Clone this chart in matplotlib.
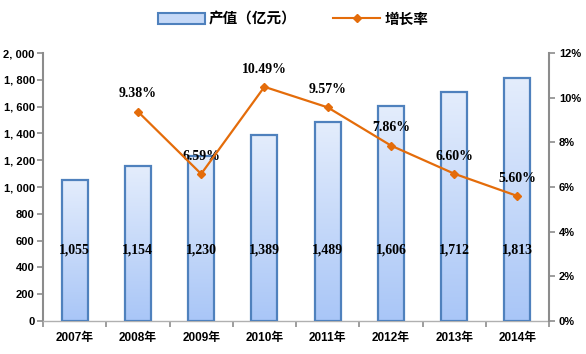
import numpy as np
import matplotlib.pyplot as plt
from matplotlib.patches import Patch
from matplotlib.lines import Line2D
from matplotlib.ticker import FixedLocator
from matplotlib.colors import LinearSegmentedColormap

years = ['2007年', '2008年', '2009年', '2010年', '2011年', '2012年', '2013年', '2014年']
output = [1055, 1154, 1230, 1389, 1489, 1606, 1712, 1813]
growth = [None, 9.38, 6.59, 10.49, 9.57, 7.86, 6.60, 5.60]
left_ticks = [0, 200, 400, 600, 800, 1000, 1200, 1400, 1600, 1800, 2000]
left_labels = ['0', '200', '400', '600', '800', '1, 000', '1, 200', '1, 400', '1, 600', '1, 800', '2, 000']
right_ticks = [0, 2, 4, 6, 8, 10, 12]

CJK = ['Liberation Sans', 'Noto Sans CJK SC', 'DejaVu Sans']
SERIF = ['Liberation Serif', 'DejaVu Serif']
BLUE_EDGE = '#4f81bd'
ORANGE = '#e46c0a'
GRAY = '#8c8c8c'

fig = plt.figure(figsize=(5.86, 3.54), dpi=100)
ax = fig.add_axes([0.0734, 0.093, 0.8636, 0.757])
x = np.arange(len(years))
w = 0.41

bars = ax.bar(x, output, width=w, facecolor='none', edgecolor=BLUE_EDGE, linewidth=1.6, zorder=3)
# gradient fill, darker at the base
grad = np.linspace(0, 1, 256).reshape(-1, 1)
cmap = LinearSegmentedColormap.from_list('bb', ['#a9c6f7', '#e4edfc'])
for b in bars:
    im = ax.imshow(grad, cmap=cmap, aspect='auto', origin='lower',
                   extent=[b.get_x(), b.get_x() + b.get_width(), 0, b.get_height()], zorder=2)
    im.set_clip_path(b)

for xi, v in zip(x, output):
    ax.text(xi, 530, f'{v:,}', ha='center', va='center', fontsize=10,
            fontweight='bold', family=SERIF, zorder=5)

ax.set_xlim(-0.5, len(years) - 0.5)
ax.set_ylim(0, 2000)
ax.set_yticks(left_ticks)
ax.set_yticklabels(left_labels, fontsize=8, fontweight='bold', family=CJK)
ax.set_xticks(x)
ax.set_xticklabels(years, fontsize=8.5, fontweight='bold', family=CJK)
ax.tick_params(axis='x', length=0, pad=8)
ax.xaxis.set_minor_locator(FixedLocator(np.arange(-0.5, len(years), 1)))
ax.tick_params(axis='x', which='minor', length=4, color=GRAY, width=1.2)
ax.tick_params(axis='y', length=4, color=GRAY, width=1.2, pad=2)
for s in ['top', 'right']:
    ax.spines[s].set_visible(False)
ax.spines['left'].set_color(GRAY)
ax.spines['left'].set_linewidth(1.5)
ax.spines['bottom'].set_color('#b0b0b0')
ax.spines['bottom'].set_linewidth(1.0)

ax2 = ax.twinx()
gx = [xi for xi, g in zip(x, growth) if g is not None]
gy = [g for g in growth if g is not None]
ax2.plot(gx, gy, color=ORANGE, linewidth=1.6, marker='D', markersize=4.5,
         markeredgecolor=ORANGE, zorder=4)
for xi, g in zip(gx, gy):
    ax2.annotate(f'{g:.2f}%', (xi, g), xytext=(0, 8), textcoords='offset points',
                 ha='center', va='bottom', fontsize=10, fontweight='bold', family=SERIF)
ax2.set_ylim(0, 12)
ax2.set_yticks(right_ticks)
ax2.set_yticklabels([f'{t}%' for t in right_ticks], fontsize=8, fontweight='bold', family=CJK)
ax2.tick_params(axis='y', length=4, color=GRAY, width=1.2, pad=3)
for s in ['top', 'left', 'bottom']:
    ax2.spines[s].set_visible(False)
ax2.spines['right'].set_color(GRAY)
ax2.spines['right'].set_linewidth(1.5)

handles = [Patch(facecolor='#c6d9f7', edgecolor=BLUE_EDGE, linewidth=1.5),
           Line2D([0], [0], color=ORANGE, linewidth=1.5, marker='D', markersize=4)]
fig.legend(handles, ['产值（亿元）', '增长率'], loc='center', bbox_to_anchor=(0.5, 0.945),
           ncol=2, frameon=False, prop={'family': CJK, 'weight': 'bold', 'size': 10.5},
           handlelength=3.2, handleheight=0.8, columnspacing=2.5, handletextpad=0.3)

fig.savefig('out.png', dpi=100)
